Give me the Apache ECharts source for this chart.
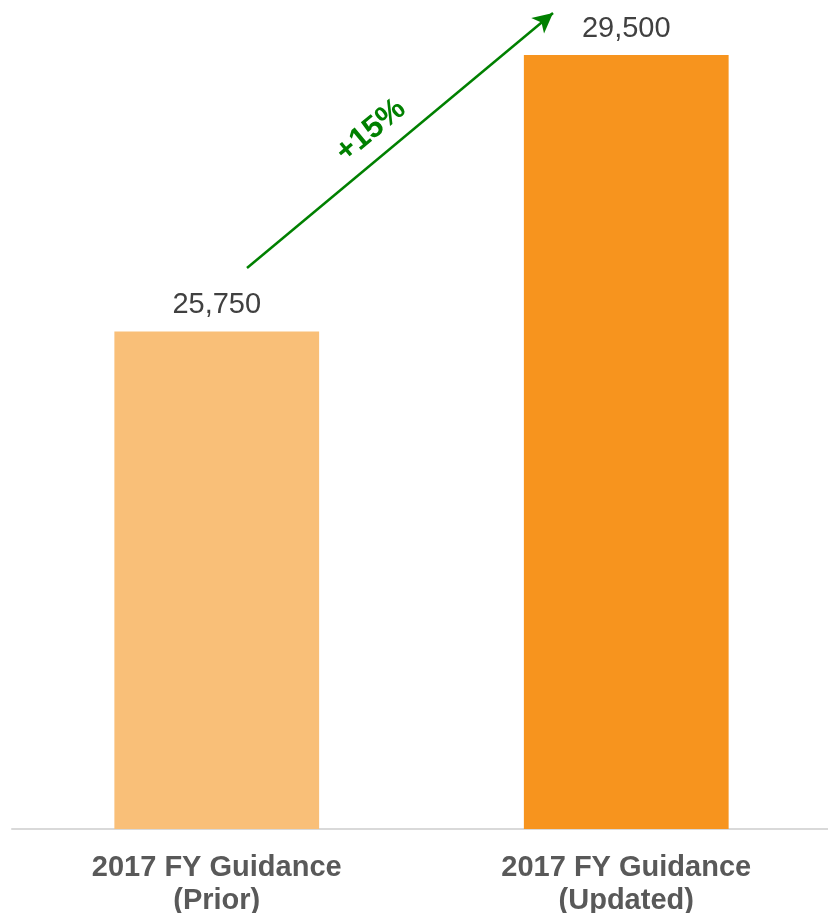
<!DOCTYPE html>
<html lang="en">
<head>
  <meta charset="utf-8">
  <title>Chart</title>
  <script src="https://cdn.jsdelivr.net/npm/echarts@6/dist/echarts.min.js"></script>
</head>
<body style="margin:0">
<div id="main" style="width:828px;height:913px;"></div>
<script type="text/javascript">
    var categories = ['2017 FY Guidance\n(Prior)', '2017 FY Guidance\n(Updated)'];
    var values = [25750, 29500];
    var barColors = ['#f9bf78', '#f7941e'];
    var growthLabel = '+15%';

    var myChart = echarts.init(document.getElementById('main'));

    var option = {
        animation: false,
        grid: { left: 12, width: 819, top: 55, bottom: 84, outerBoundsMode: 'none' },
        xAxis: {
            type: 'category',
            data: categories,
            axisTick: { show: false },
            axisLine: { lineStyle: { color: '#d9d9d9', width: 2 } },
            axisLabel: {
                margin: 22,
                fontFamily: 'Liberation Sans, Arial',
                fontSize: 29,
                fontWeight: 'bold',
                color: '#595959',
                lineHeight: 33
            }
        },
        yAxis: {
            type: 'value',
            min: 19000,
            max: 29500,
            show: false
        },
        series: [{
            type: 'bar',
            barWidth: '50%',
            data: values.map(function (v, i) {
                return { value: v, itemStyle: { color: barColors[i] } };
            }),
            label: {
                show: true,
                position: 'top',
                distance: 12,
                fontFamily: 'Liberation Sans, Arial',
                fontSize: 29,
                color: '#404040',
                formatter: function (p) {
                    return p.value.toLocaleString('en-US');
                }
            },
            markLine: {
                silent: true,
                symbol: ['none', 'arrow'],
                symbolSize: [15, 20],
                lineStyle: { color: '#008000', width: 2.5, type: 'solid' },
                label: {
                    show: true,
                    position: 'middle',
                    formatter: growthLabel,
                    distance: [0, 14],
                    offset: [-25, 0],
                    fontFamily: 'Liberation Sans, Arial',
                    fontSize: 31,
                    fontWeight: 'bold',
                    color: '#008000'
                },
                data: [[{ x: 247, y: 268 }, { x: 553, y: 13 }]]
            }
        }]
    };

    myChart.setOption(option);
</script>
</body>
</html>
